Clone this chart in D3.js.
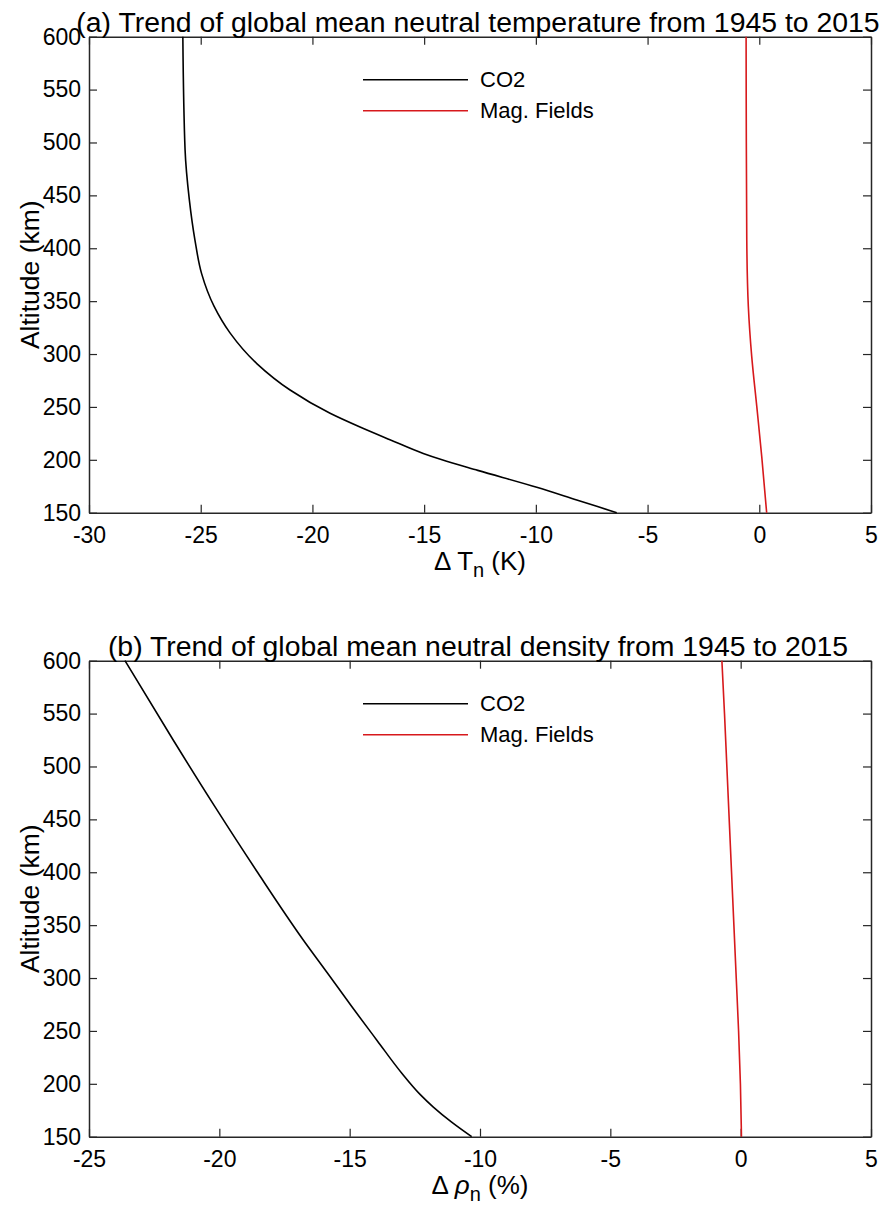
<!DOCTYPE html>
<html>
<head>
<meta charset="utf-8">
<script src="https://cdn.jsdelivr.net/npm/d3@7"></script>
<style>
  body { margin: 0; background: #fff; }
  text { font-family: "Liberation Sans", Arial, sans-serif; fill: #000; }
</style>
</head>
<body>
<div id="vis"></div>
<script>
// ---- data ----
const seriesNames = ["CO2", "Mag. Fields"];
const seriesColors = ["#000000", "#d7191c"];

const altTempCO2 = [600, 493, 446, 408, 376, 345, 320, 291, 266, 244, 231, 219, 206, 200, 190, 174, 162, 150];
const dTempCO2   = [-25.8, -25.7, -25.51, -25.26, -24.96, -24.4, -23.69, -22.49, -21.0, -19.21, -17.87, -16.53, -15.04, -14.2, -12.6, -9.96, -8.17, -6.38];
const altTempMag = [600, 500, 408, 345, 298, 250, 203, 150];
const dTempMag   = [-0.59, -0.58, -0.56, -0.49, -0.34, -0.11, 0.11, 0.33];

const altDensCO2 = [600, 525, 462, 399, 336, 305, 273, 241, 210, 190, 178, 164, 150];
const dDensCO2   = [-23.62, -21.77, -20.17, -18.51, -16.78, -15.86, -14.92, -13.95, -13.0, -12.3, -11.79, -11.1, -10.32];
const altDensMag = [600, 550, 500, 450, 400, 350, 300, 250, 200, 150];
const dDensMag   = [-0.72, -0.62, -0.53, -0.44, -0.35, -0.26, -0.17, -0.08, -0.01, 0.03];

const altTicks = [150, 200, 250, 300, 350, 400, 450, 500, 550, 600];
const tempTicks = [-30, -25, -20, -15, -10, -5, 0, 5];
const densTicks = [-25, -20, -15, -10, -5, 0, 5];

const panels = [
  {
    title: "(a) Trend of global mean neutral temperature from 1945 to 2015",
    top: 36.7, xDomain: [-30, 5], xTicks: tempTicks,
    xlabel: [{t: "\u0394 T"}, {t: "n", sub: true}, {t: " (K)", up: true}],
    series: [[altTempCO2, dTempCO2], [altTempMag, dTempMag]]
  },
  {
    title: "(b) Trend of global mean neutral density from 1945 to 2015",
    top: 660.7, xDomain: [-25, 5], xTicks: densTicks,
    xlabel: [{t: "\u0394 "}, {t: "\u03c1", it: true}, {t: "n", sub: true}, {t: " (%)", up: true}],
    series: [[altDensCO2, dDensCO2], [altDensMag, dDensMag]]
  }
];

const [width, height] = [887, 1216];
const left = 89, right = 871, plotH = 476;
const axisColor = "#262626";
const fmt = d => String(d); // plain hyphen minus, as in the figure

const svg = d3.select("#vis").append("svg")
  .attr("width", width).attr("height", height)
  .attr("viewBox", [0, 0, width, height]);

panels.forEach(p => {
  const x = d3.scaleLinear().domain(p.xDomain).range([left, right]);
  const y = d3.scaleLinear().domain([150, 600]).range([p.top + plotH, p.top]);
  const g = svg.append("g");

  // ticks inside, mirrored on all four sides
  const tk = 8;
  g.append("g").attr("transform", `translate(0,${y(150)})`)
    .call(d3.axisBottom(x).tickValues(p.xTicks).tickFormat(fmt).tickSize(-tk).tickPadding(14).tickSizeOuter(0))
    .call(a => a.selectAll("text").attr("font-size", 23).attr("fill", "#000"));
  g.append("g").attr("transform", `translate(0,${y(600)})`)
    .call(d3.axisTop(x).tickValues(p.xTicks).tickSize(-tk).tickFormat("").tickSizeOuter(0));
  g.append("g").attr("transform", `translate(${left},0)`)
    .call(d3.axisLeft(y).tickValues(altTicks).tickFormat(fmt).tickSize(-tk).tickPadding(8).tickSizeOuter(0))
    .call(a => a.selectAll("text").attr("font-size", 23).attr("fill", "#000"));
  g.append("g").attr("transform", `translate(${right},0)`)
    .call(d3.axisRight(y).tickValues(altTicks).tickSize(-tk).tickFormat("").tickSizeOuter(0));
  g.selectAll(".domain").attr("stroke", axisColor).attr("stroke-width", 1.5);
  g.selectAll(".tick line").attr("stroke", axisColor).attr("stroke-width", 1.2);
  g.selectAll(".tick text").attr("font-family", "Liberation Sans, Arial, sans-serif");

  // curves
  const line = d3.line().curve(d3.curveMonotoneY).x(d => x(d[1])).y(d => y(d[0]));
  p.series.forEach((s, i) => {
    g.append("path")
      .datum(d3.zip(s[0], s[1]))
      .attr("fill", "none")
      .attr("stroke", seriesColors[i])
      .attr("stroke-width", 1.6)
      .attr("d", line);
  });

  // legend
  const leg = g.append("g").attr("transform", `translate(363,${p.top + 43})`);
  seriesNames.forEach((n, i) => {
    leg.append("line").attr("x1", 0).attr("x2", 105)
      .attr("y1", i * 31).attr("y2", i * 31)
      .attr("stroke", seriesColors[i]).attr("stroke-width", 1.6);
    leg.append("text").attr("x", 117).attr("y", i * 31).attr("dy", "0.35em")
      .attr("font-size", 22).text(n);
  });

  // title
  g.append("text").attr("x", 478).attr("y", p.top - 5)
    .attr("text-anchor", "middle").attr("font-size", 28.4).text(p.title);

  // y label
  g.append("text")
    .attr("transform", `translate(30,${p.top + plotH / 2}) rotate(-90)`)
    .attr("dy", "0.35em").attr("text-anchor", "middle").attr("font-size", 26.5)
    .text("Altitude (km)");

  // x label
  const xl = g.append("text").attr("x", (left + right) / 2).attr("y", p.top + plotH + 57)
    .attr("text-anchor", "middle").attr("font-size", 26);
  p.xlabel.forEach(part => {
    const ts = xl.append("tspan").text(part.t);
    if (part.it) ts.attr("font-style", "italic");
    if (part.sub) ts.attr("dy", 7).attr("font-size", 20);
    if (part.up) ts.attr("dy", -7);
  });
});
</script>
</body>
</html>
